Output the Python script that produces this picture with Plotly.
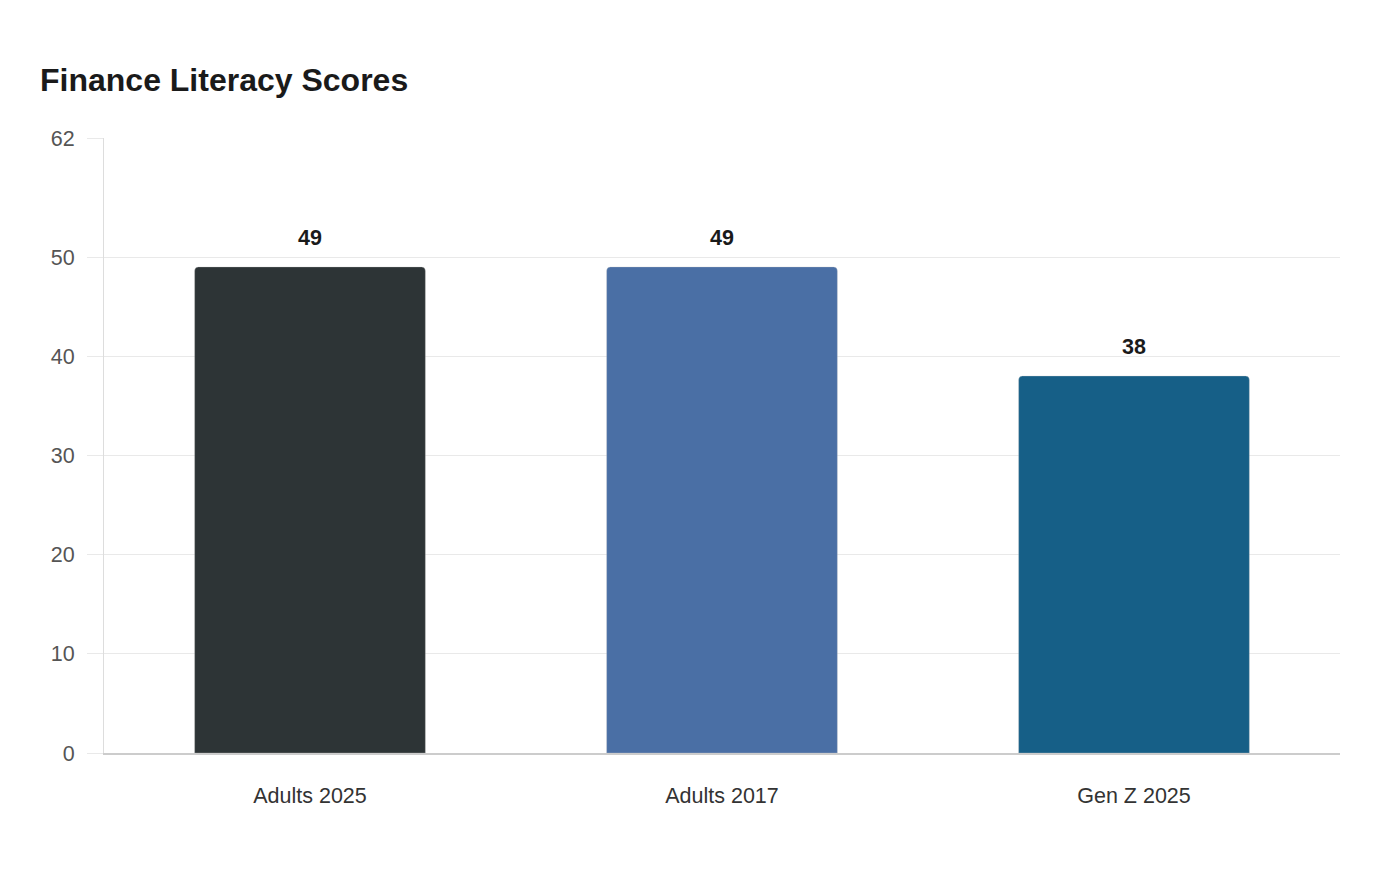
import plotly.graph_objects as go

# data
groups = ["Adults 2025", "Adults 2017", "Gen Z 2025"]
scores = [49, 49, 38]
bar_colors = ["#2d3436", "#4a6fa5", "#165f87"]
y_ticks = [0, 10, 20, 30, 40, 50, 62]

FONT = "Liberation Sans, Arial, sans-serif"

fig = go.Figure()

fig.add_trace(go.Bar(
    x=groups,
    y=scores,
    marker=dict(color=bar_colors, cornerradius=4,
                line=dict(color="rgba(200,200,200,0.6)", width=0.5)),
    hoverinfo="x+y",
    showlegend=False,
))

# value labels above the bars
for g, s in zip(groups, scores):
    fig.add_annotation(
        x=g, y=s, text=f"<b>{s}</b>", showarrow=False,
        yanchor="middle", yshift=29,
        font=dict(family=FONT, size=21.5, color="#1a1a1a"),
    )

# page body adds ~8px offset, so margins are shifted accordingly
fig.update_layout(
    title=dict(text="<b>Finance Literacy Scores</b>", x=32 / 1400, xref="container", xanchor="left",
               y=1 - 72 / 880, yref="container", yanchor="middle",
               font=dict(family=FONT, size=32, color="#1a1a1a")),
    width=1400, height=880,
    margin=dict(l=96, r=68, t=130, b=135),
    paper_bgcolor="white",
    plot_bgcolor="white",
    bargap=0.44,
    font=dict(family=FONT),
)

fig.update_yaxes(
    range=[0, 62], tickvals=y_ticks,
    showgrid=True, gridcolor="#e9e9e9", gridwidth=1,
    showline=True, linecolor="#dddddd", linewidth=1,
    ticks="outside", ticklen=16, tickcolor="#e9e9e9",
    ticklabelstandoff=8,
    zeroline=False,
    tickfont=dict(size=21.5, color="#555555"),
)
fig.update_xaxes(
    showline=True, linecolor="#cccccc", linewidth=1.5,
    showgrid=False,
    ticks="", ticklabelstandoff=22,
    tickfont=dict(size=21.5, color="#333333"),
)

fig.write_html("out.html")
